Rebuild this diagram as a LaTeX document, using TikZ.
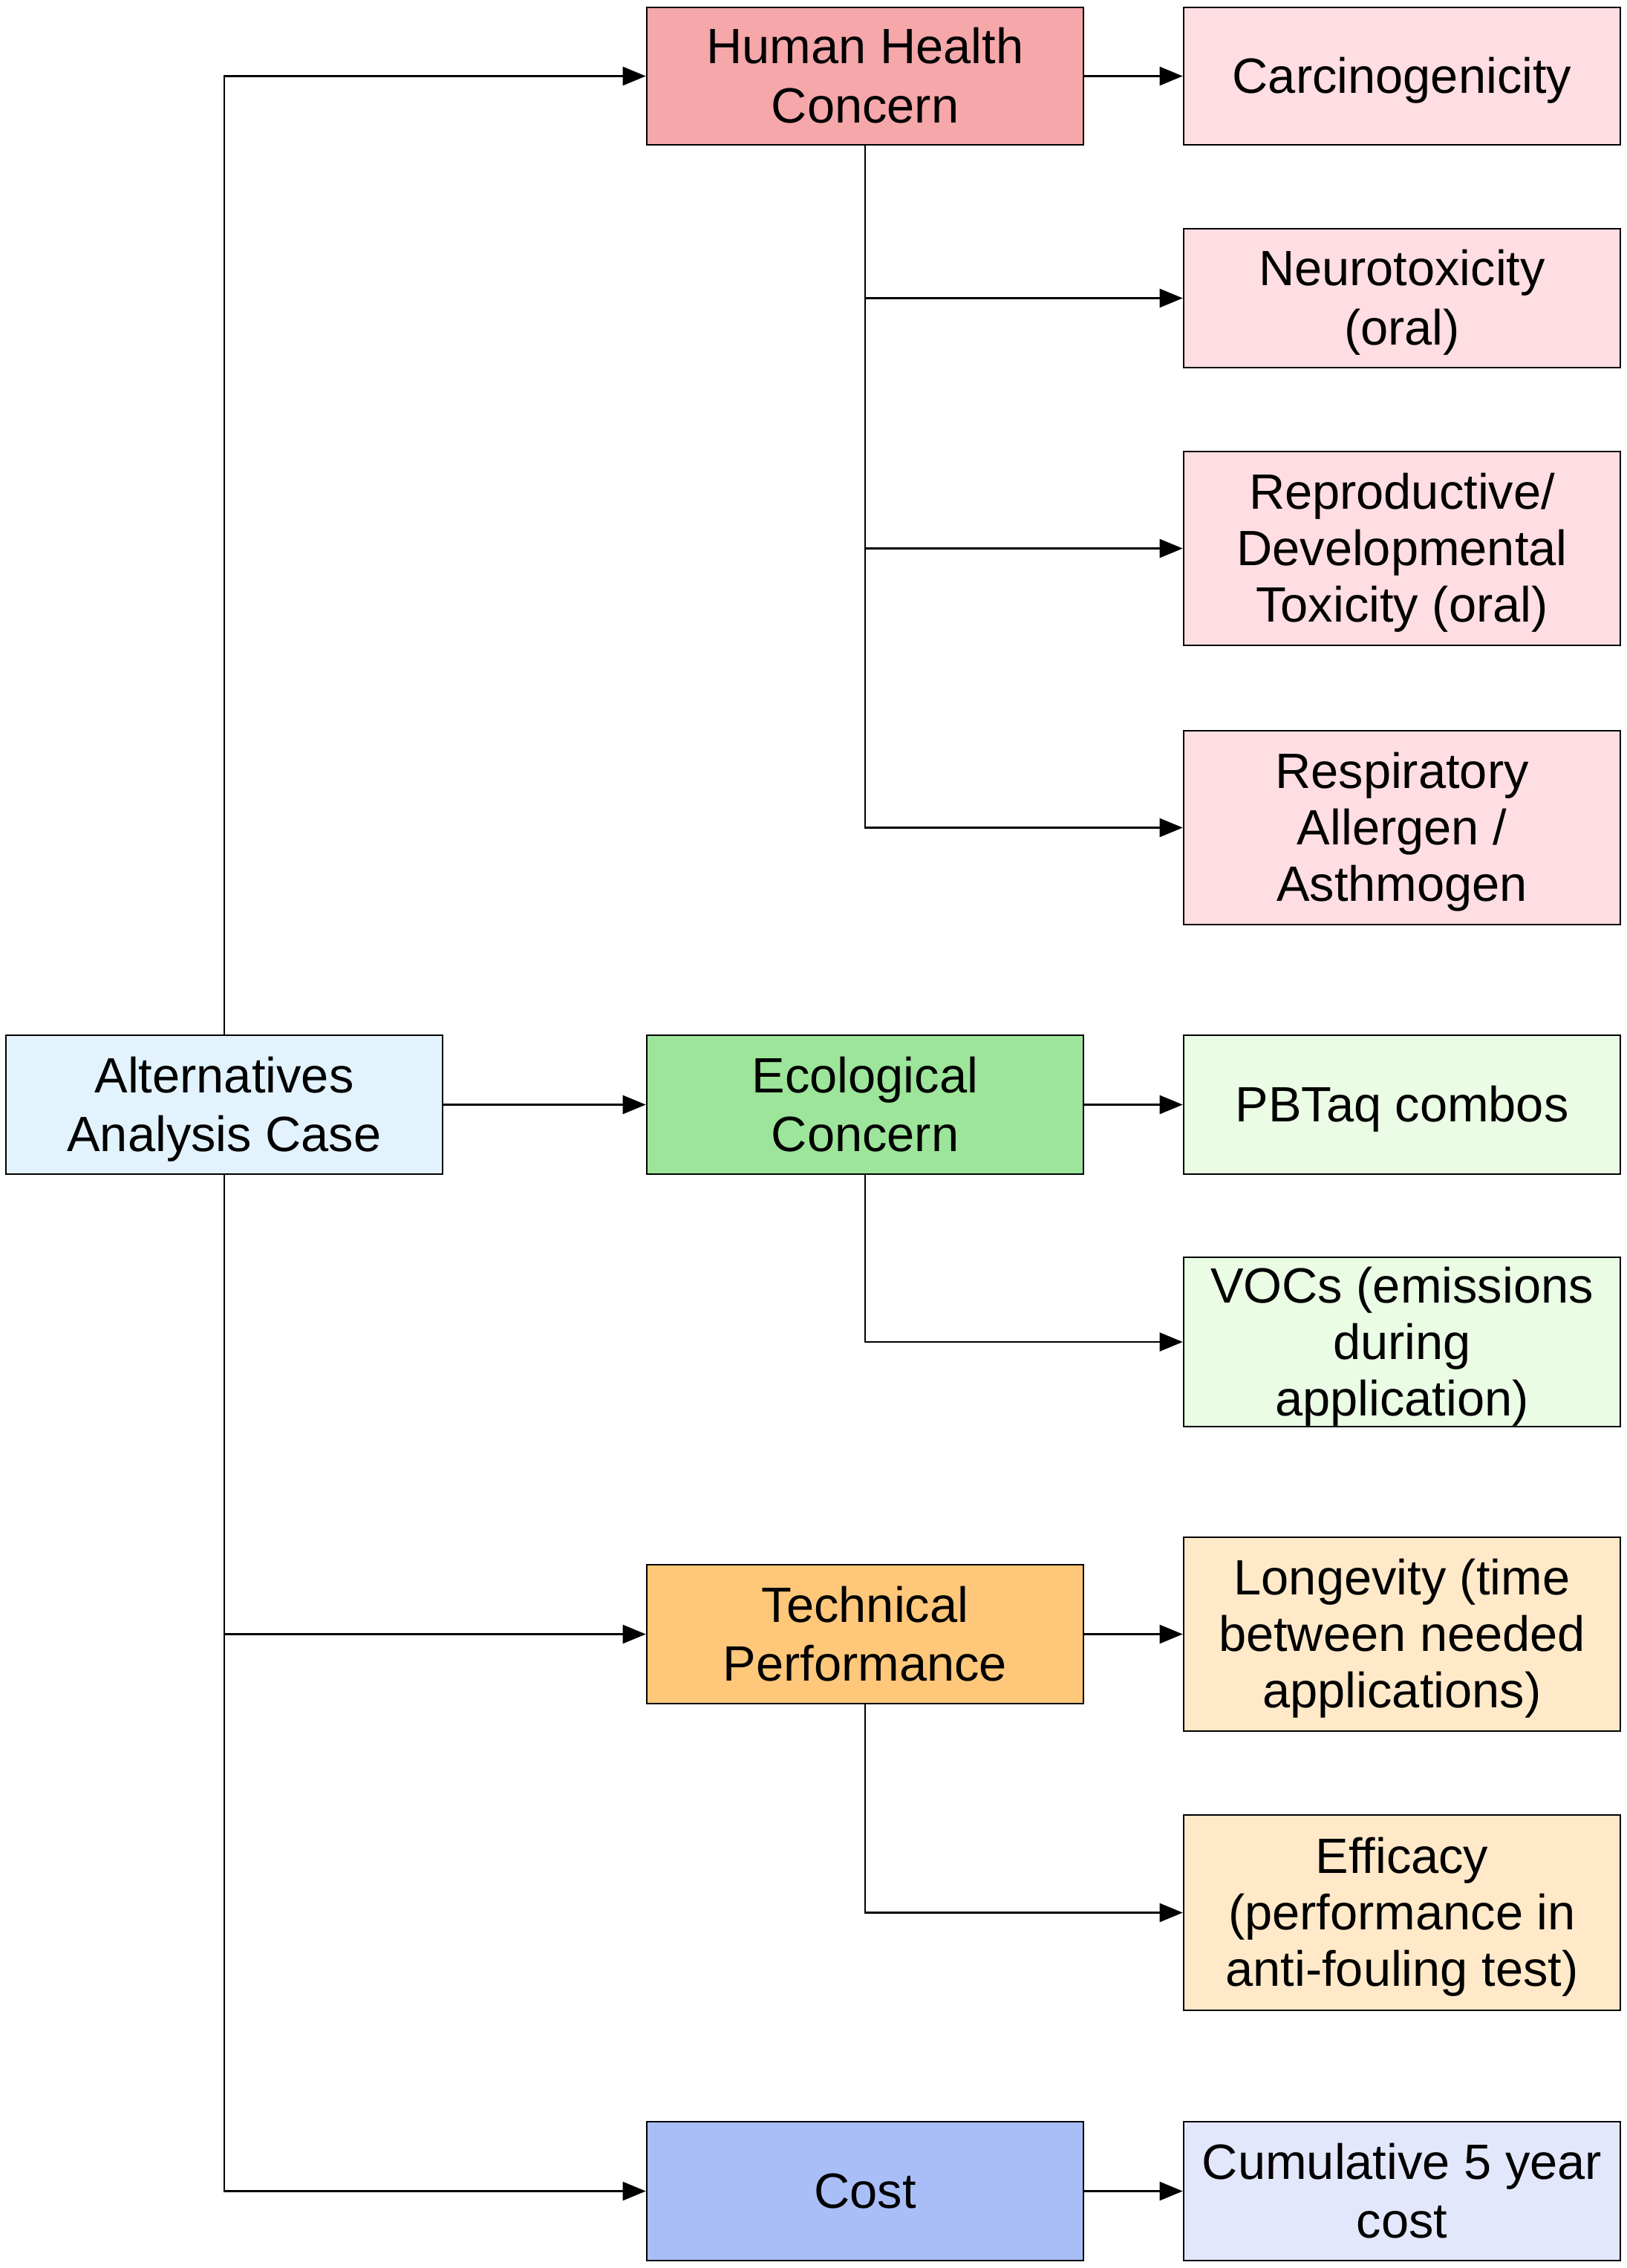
\documentclass[tikz,border=0pt]{standalone}
\usepackage{fontspec}
\setmainfont{Liberation Sans}
\usetikzlibrary{arrows.meta}
\definecolor{rootfill}{HTML}{E2F3FD}
\definecolor{hhcfill}{HTML}{F5A7AA}
\definecolor{hhcsub}{HTML}{FEDDE3}
\definecolor{ecofill}{HTML}{9CE59A}
\definecolor{ecosub}{HTML}{EAFCE4}
\definecolor{techfill}{HTML}{FFC77A}
\definecolor{techsub}{HTML}{FFE9C8}
\definecolor{costfill}{HTML}{A9BEF7}
\definecolor{costsub}{HTML}{E3E7FB}
% strut that fixes the height of the first and the depth of the last line
\newcommand{\bs}{\rule[-4.2pt]{0pt}{21.7pt}}
\begin{document}
\begin{tikzpicture}[>={Triangle[length=0.31cm,width=0.25cm]},
        font=\fontsize{19}{21.6}\selectfont,
        box/.style={draw, line width=0.75pt, minimum width=5.88cm, align=center, inner sep=0pt},
        conn/.style={->, line width=0.7pt}]
        \useasboundingbox (0,0) rectangle (21.91,-30.54);
        % root and first level
        \node[box, fill=rootfill, minimum height=1.87cm] (root) at (3.02,-14.875) {\bs Alternatives\\Analysis Case\bs};
        \node[box, fill=hhcfill, minimum height=1.85cm] (hhc) at (11.65,-1.025) {\bs Human Health\\Concern\bs};
        \node[box, fill=ecofill, minimum height=1.87cm] (eco) at (11.65,-14.875) {\bs Ecological\\Concern\bs};
        \node[box, fill=techfill, minimum height=1.87cm] (tech) at (11.65,-22.005) {\bs Technical\\Performance\bs};
        \node[box, fill=costfill, minimum height=1.87cm] (cost) at (11.65,-29.505) {\bs Cost\bs};
        % second level
        \node[box, fill=hhcsub, minimum height=1.85cm] (carc) at (18.88,-1.025) {\bs Carcinogenicity\bs};
        \node[box, fill=hhcsub, minimum height=1.87cm] (neuro) at (18.88,-4.015) {\bs Neurotoxicity\\(oral)\bs};
        \node[box, fill=hhcsub, minimum height=2.61cm] (repro) at (18.88,-7.385) {\bs Reproductive/\\Developmental\\Toxicity (oral)\bs};
        \node[box, fill=hhcsub, minimum height=2.61cm] (resp) at (18.88,-11.145) {\bs Respiratory\\Allergen /\\Asthmogen\bs};
        \node[box, fill=ecosub, minimum height=1.87cm] (pbt) at (18.88,-14.875) {\bs PBTaq combos\bs};
        \node[box, fill=ecosub, minimum height=2.26cm] (voc) at (18.88,-18.07) {\bs VOCs (emissions\\during\\application)\bs};
        \node[box, fill=techsub, minimum height=2.61cm] (longev) at (18.88,-22.005) {\bs Longevity (time\\between needed\\applications)\bs};
        \node[box, fill=techsub, minimum height=2.63cm] (effic) at (18.88,-25.755) {\bs Efficacy\\(performance in\\anti-fouling test)\bs};
        \node[box, fill=costsub, minimum height=1.87cm] (cumul) at (18.88,-29.505) {\bs Cumulative 5 year\\cost\bs};
        % connectors
        \draw[conn] (root.north) |- (hhc.west);
        \draw[conn] (root) -- (eco);
        \draw[conn] (root.south) |- (tech.west);
        \draw[conn] (root.south) |- (cost.west);
        \draw[conn] (hhc) -- (carc);
        \foreach \sub in {neuro, repro, resp}
            \draw[conn] (hhc.south) |- (\sub.west);
        \draw[conn] (eco) -- (pbt);
        \draw[conn] (eco.south) |- (voc.west);
        \draw[conn] (tech) -- (longev);
        \draw[conn] (tech.south) |- (effic.west);
        \draw[conn] (cost) -- (cumul);
    \end{tikzpicture}
\end{document}
